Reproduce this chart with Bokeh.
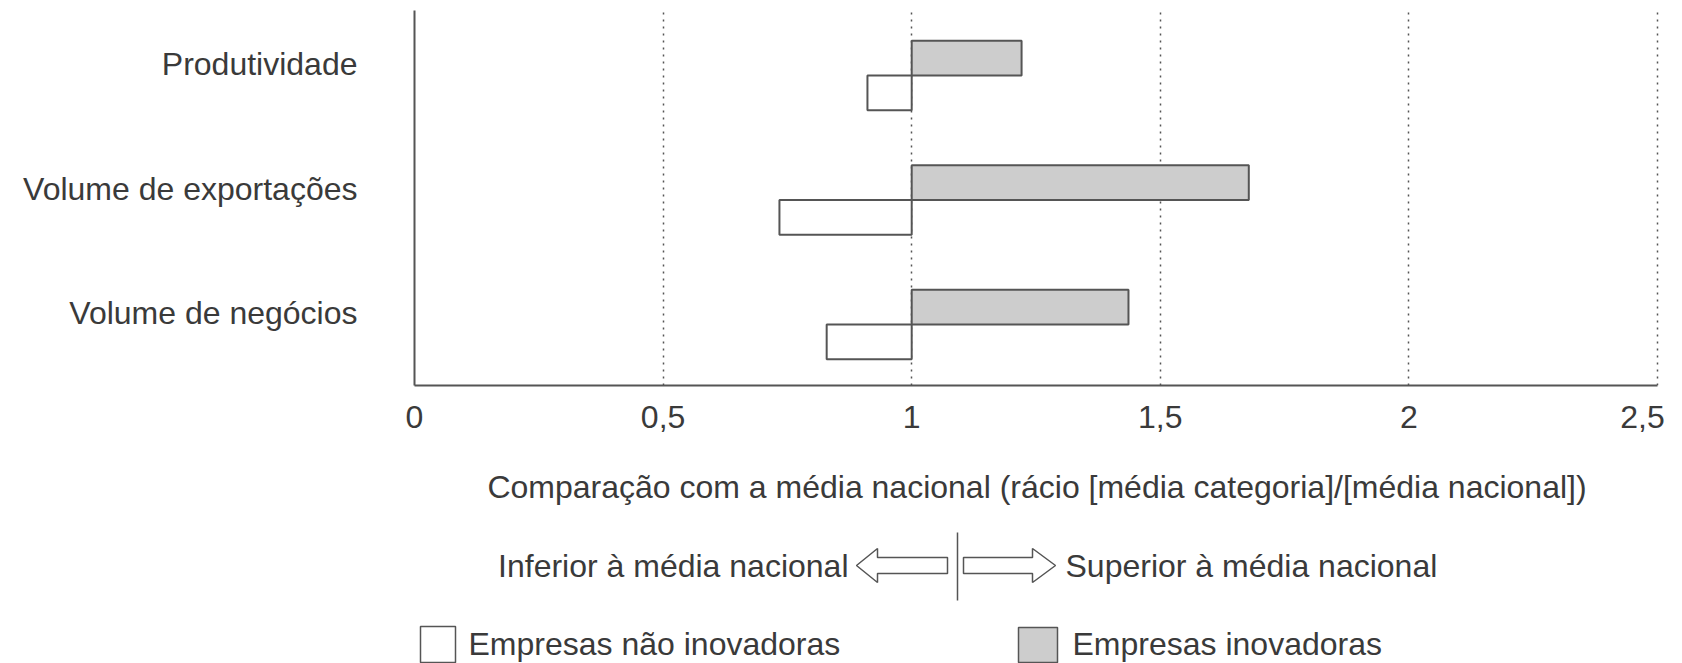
from bokeh.plotting import figure
from bokeh.layouts import column
from bokeh.models import Range1d, FixedTicker, ColumnDataSource
from bokeh.core.properties import value
from bokeh.embed import file_html
from bokeh.resources import INLINE

# ---- data ----
categories = ["Volume de negócios", "Volume de exportações", "Produtividade"]
innovative = [1.436, 1.678, 1.221]
non_innovative = [0.829, 0.734, 0.911]
x_ticks = [0, 0.5, 1, 1.5, 2, 2.5]
x_tick_labels = ["0", "0,5", "1", "1,5", "2", "2,5\u00a0\u00a0"]
x_title = "Comparação com a média nacional (rácio [média categoria]/[média nacional])"
arrow_left_text = "Inferior à média nacional"
arrow_right_text = "Superior à média nacional"
legend_labels = ["Empresas não inovadoras", "Empresas inovadoras"]

FONT = "Liberation Sans"
FS = "32px"
TXT = "#3a3a3a"
LINE = "#555555"
GRAY = "#cdcdcd"

W = 1682
H1 = 518
H2 = 145
FL = 414          # frame left
FW = 1245         # frame width
FT = 10           # frame top
FH = 375          # frame height
X_END = 2.5 * FW / 1243.0

pos = list(range(len(categories)))
off = 0.09
bh = 0.28
src = ColumnDataSource(dict(
    y_in=[p - off + bh / 2 for p in pos],
    y_non=[p - off - bh / 2 for p in pos],
    innov=innovative,
    non=non_innovative,
    base=[1.0] * len(pos),
))

p = figure(width=W, height=H1, output_backend="svg", toolbar_location=None,
           x_range=Range1d(0, X_END), y_range=Range1d(-0.58, 2.432),
           min_border_left=FL, min_border_right=W - FL - FW, min_border_top=FT,
           min_border_bottom=H1 - FT - FH)
p.outline_line_color = None
p.background_fill_color = "white"
p.border_fill_color = "white"

p.hbar(y="y_in", left="base", right="innov", height=bh, source=src,
       fill_color=GRAY, line_color=LINE, line_width=2)
p.hbar(y="y_non", left="non", right="base", height=bh, source=src,
       fill_color="white", line_color=LINE, line_width=2)

# x axis
xa = p.xaxis[0]
xa.ticker = FixedTicker(ticks=x_ticks)
xa.major_label_overrides = {t: l for t, l in zip(x_ticks, x_tick_labels)}
xa.major_tick_out = 0
xa.major_tick_in = 0
xa.minor_tick_out = 0
xa.minor_tick_in = 0
xa.axis_line_color = LINE
xa.axis_line_width = 2
xa.bounds = (0, 2.5)
xa.major_label_text_font = FONT
xa.major_label_text_font_size = FS
xa.major_label_text_color = TXT
xa.major_label_standoff = 13
xa.axis_label = x_title
xa.axis_label_text_font = FONT
xa.axis_label_text_font_size = FS
xa.axis_label_text_font_style = "normal"
xa.axis_label_text_color = TXT
xa.axis_label_standoff = 31

# y axis
ya = p.yaxis[0]
ya.ticker = FixedTicker(ticks=pos)
ya.major_label_overrides = {i: c for i, c in zip(pos, categories)}
ya.major_tick_out = 0
ya.major_tick_in = 0
ya.minor_tick_out = 0
ya.minor_tick_in = 0
ya.axis_line_color = LINE
ya.axis_line_width = 2
ya.major_label_text_font = FONT
ya.major_label_text_font_size = FS
ya.major_label_text_color = TXT
ya.major_label_standoff = 57

p.ygrid.visible = False
p.xgrid.ticker = FixedTicker(ticks=x_ticks[1:])
p.xgrid.grid_line_color = LINE
p.xgrid.grid_line_dash = "2 5"
p.xgrid.grid_line_width = 1.5

# ---- lower panel: direction arrows and legend (frame aligned with the chart above) ----
q = figure(width=W, height=H2, output_backend="svg", toolbar_location=None,
           x_range=Range1d(FL, FL + FW), y_range=Range1d(H1 + H2, H1),
           min_border=0, x_axis_type=None, y_axis_type=None)
q.outline_line_color = None
q.grid.visible = False
q.background_fill_color = "white"
q.border_fill_color = "white"

ay = 565
q.patch([856, 877, 877, 947, 947, 877, 877], [ay, ay - 17, ay - 8, ay - 8, ay + 8, ay + 8, ay + 17],
        fill_color="white", line_color=LINE, line_width=1.5)
q.patch([963, 1032, 1032, 1055, 1032, 1032, 963], [ay - 8, ay - 8, ay - 17, ay, ay + 17, ay + 8, ay + 8],
        fill_color="white", line_color=LINE, line_width=1.5)
q.segment(x0=[957], y0=[532], x1=[957], y1=[600], line_color=LINE, line_width=1.5)

q.text(x=[848], y=[ay], text=[arrow_left_text], text_font=value(FONT), text_font_size=FS,
       text_color=TXT, text_align="right", text_baseline="middle")
q.text(x=[1065], y=[ay], text=[arrow_right_text], text_font=value(FONT), text_font_size=FS,
       text_color=TXT, text_align="left", text_baseline="middle")

ly = 643
q.quad(left=[420], right=[455], top=[626], bottom=[662], fill_color="white",
       line_color=LINE, line_width=1.5)
q.quad(left=[1018], right=[1057], top=[627], bottom=[662], fill_color=GRAY,
       line_color=LINE, line_width=1.5)
q.text(x=[468, 1072], y=[ly, ly], text=legend_labels, text_font=value(FONT), text_font_size=FS,
       text_color=TXT, text_align="left", text_baseline="middle")

layout = column(p, q, spacing=0)
open("out.html", "w").write(file_html(layout, INLINE))
